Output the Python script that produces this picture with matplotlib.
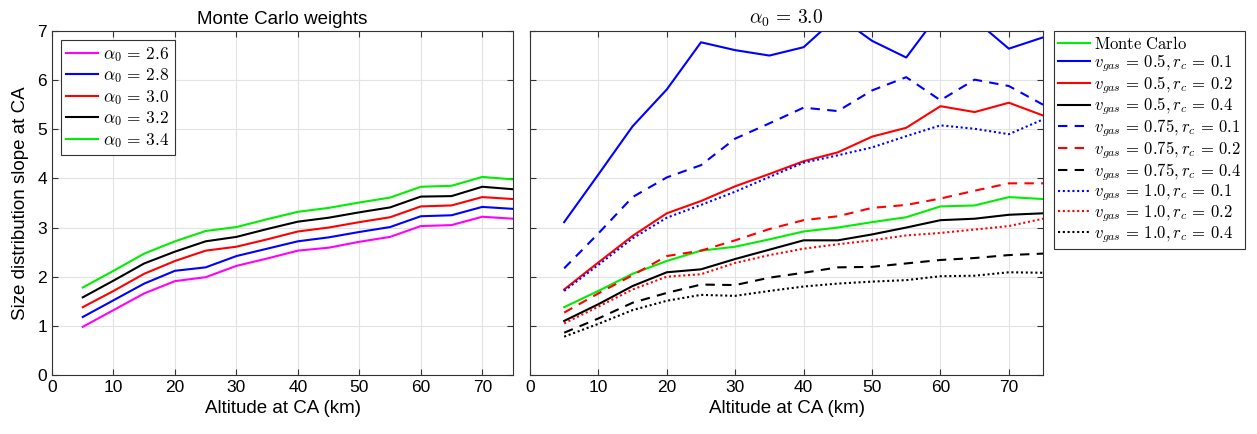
import numpy as np
import matplotlib
matplotlib.use("Agg")
import matplotlib.pyplot as plt

plt.rcParams['font.family'] = ['Liberation Sans', 'DejaVu Sans']
plt.rcParams['mathtext.fontset'] = 'cm'

altitude = [5, 10, 15, 20, 25, 30, 35, 40, 45, 50, 55, 60, 65, 70, 75]

# Monte Carlo weights for different alpha_0
mc_alpha_26 = [0.98, 1.32, 1.66, 1.91, 1.99, 2.22, 2.37, 2.53, 2.59, 2.71, 2.81, 3.03, 3.05, 3.22, 3.18]
mc_alpha_28 = [1.18, 1.52, 1.86, 2.12, 2.19, 2.42, 2.57, 2.72, 2.80, 2.91, 3.01, 3.23, 3.25, 3.42, 3.38]
mc_alpha_30 = [1.38, 1.71, 2.06, 2.32, 2.53, 2.61, 2.76, 2.92, 3.00, 3.11, 3.21, 3.43, 3.45, 3.62, 3.58]
mc_alpha_32 = [1.58, 1.92, 2.27, 2.51, 2.72, 2.81, 2.97, 3.12, 3.20, 3.31, 3.41, 3.63, 3.64, 3.83, 3.78]
mc_alpha_34 = [1.78, 2.12, 2.47, 2.72, 2.93, 3.01, 3.17, 3.32, 3.40, 3.51, 3.61, 3.83, 3.85, 4.03, 3.98]

# gas model runs at alpha_0 = 3.0
v05_rc01 = [3.11, 4.08, 5.06, 5.81, 6.77, 6.61, 6.50, 6.67, 7.30, 6.80, 6.46, 7.39, 7.23, 6.64, 6.87]
v05_rc02 = [1.74, 2.29, 2.83, 3.29, 3.54, 3.84, 4.09, 4.35, 4.53, 4.85, 5.03, 5.47, 5.35, 5.54, 5.28]
v05_rc04 = [1.10, 1.44, 1.81, 2.09, 2.15, 2.36, 2.55, 2.74, 2.74, 2.86, 3.00, 3.15, 3.18, 3.26, 3.29]
v075_rc01 = [2.17, 2.88, 3.62, 4.02, 4.27, 4.81, 5.12, 5.44, 5.37, 5.79, 6.06, 5.59, 6.01, 5.88, 5.50]
v075_rc02 = [1.27, 1.66, 2.03, 2.42, 2.53, 2.74, 2.97, 3.15, 3.23, 3.40, 3.46, 3.59, 3.75, 3.90, 3.90]
v075_rc04 = [0.86, 1.15, 1.47, 1.67, 1.84, 1.83, 1.98, 2.08, 2.19, 2.20, 2.27, 2.34, 2.38, 2.44, 2.47]
v10_rc01 = [1.71, 2.24, 2.78, 3.20, 3.46, 3.73, 4.03, 4.32, 4.47, 4.63, 4.86, 5.08, 5.01, 4.90, 5.20]
v10_rc02 = [1.05, 1.39, 1.74, 2.00, 2.05, 2.28, 2.44, 2.57, 2.66, 2.74, 2.84, 2.89, 2.96, 3.03, 3.18]
v10_rc04 = [0.78, 1.04, 1.32, 1.51, 1.63, 1.61, 1.71, 1.80, 1.86, 1.90, 1.93, 2.01, 2.02, 2.09, 2.08]

lw = 1.5
dash = (0, (4.5, 3.5))
dot = (0, (1, 1.3))


def style_axes(ax):
    ax.set_xlim(0, 75)
    ax.set_ylim(0, 7)
    ax.set_xticks(range(0, 71, 10))
    ax.set_yticks(range(0, 8))
    ax.grid(True, color='#e3e3e3', linewidth=0.8)
    ax.set_axisbelow(True)
    ax.tick_params(direction='in', top=True, right=True, labelsize=12.5,
                   length=4, color='#333333', width=0.8)
    for s in ax.spines.values():
        s.set_color('#333333')
        s.set_linewidth(0.8)
    ax.set_xlabel('Altitude at CA (km)', fontsize=13.5, labelpad=4)


def gas_label(v, rc):
    return r'$v_{gas} \,=\, %s, r_c \,=\, %s$' % (v, rc)


def alpha_label(a):
    return r'$\alpha_0 \,=\, %s$' % a


fig = plt.figure(figsize=(12.57, 4.34), dpi=100)
ax1 = fig.add_axes([0.0414, 0.136, 0.3667, 0.7926])
ax2 = fig.add_axes([0.4216, 0.136, 0.4082, 0.7926])

ax1.plot(altitude, mc_alpha_26, color='#ff00ff', lw=lw, label=alpha_label('2.6'))
ax1.plot(altitude, mc_alpha_28, color='#0000ff', lw=lw, label=alpha_label('2.8'))
ax1.plot(altitude, mc_alpha_30, color='#ff0000', lw=lw, label=alpha_label('3.0'))
ax1.plot(altitude, mc_alpha_32, color='#000000', lw=lw, label=alpha_label('3.2'))
ax1.plot(altitude, mc_alpha_34, color='#00ee00', lw=lw, label=alpha_label('3.4'))
style_axes(ax1)
ax1.set_title('Monte Carlo weights', fontsize=13.5, pad=5)
ax1.set_ylabel('Size distribution slope at CA', fontsize=13.5, labelpad=6)
leg1 = ax1.legend(loc='upper left', fontsize=12.5, fancybox=False, framealpha=1,
                  edgecolor='#333333', handlelength=1.85, handletextpad=0.3,
                  borderpad=0.3, labelspacing=0.15, borderaxespad=0.5)
leg1.get_frame().set_linewidth(0.8)

ax2.plot(altitude, mc_alpha_30, color='#00ee00', lw=lw, label=r'$\mathrm{Monte\ Carlo}$')
ax2.plot(altitude, v05_rc01, color='#0000ff', lw=lw, label=gas_label('0.5', '0.1'))
ax2.plot(altitude, v05_rc02, color='#ff0000', lw=lw, label=gas_label('0.5', '0.2'))
ax2.plot(altitude, v05_rc04, color='#000000', lw=lw, label=gas_label('0.5', '0.4'))
ax2.plot(altitude, v075_rc01, color='#0000ff', lw=lw, ls=dash, label=gas_label('0.75', '0.1'))
ax2.plot(altitude, v075_rc02, color='#ff0000', lw=lw, ls=dash, label=gas_label('0.75', '0.2'))
ax2.plot(altitude, v075_rc04, color='#000000', lw=lw, ls=dash, label=gas_label('0.75', '0.4'))
ax2.plot(altitude, v10_rc01, color='#0000ff', lw=lw, ls=dot, label=gas_label('1.0', '0.1'))
ax2.plot(altitude, v10_rc02, color='#ff0000', lw=lw, ls=dot, label=gas_label('1.0', '0.2'))
ax2.plot(altitude, v10_rc04, color='#000000', lw=lw, ls=dot, label=gas_label('1.0', '0.4'))
style_axes(ax2)
ax2.set_yticklabels([])
ax2.set_title(alpha_label('3.0'), fontsize=14, pad=5)
leg2 = ax2.legend(loc='upper left', bbox_to_anchor=(0.8385, 0.9286),
                  bbox_transform=fig.transFigure, fontsize=12, fancybox=False,
                  framealpha=1, edgecolor='#333333', handlelength=1.9,
                  handletextpad=0.25, borderpad=0.25, labelspacing=0.0,
                  borderaxespad=0)
leg2.get_frame().set_linewidth(0.8)

fig.savefig('out.png', dpi=100)
